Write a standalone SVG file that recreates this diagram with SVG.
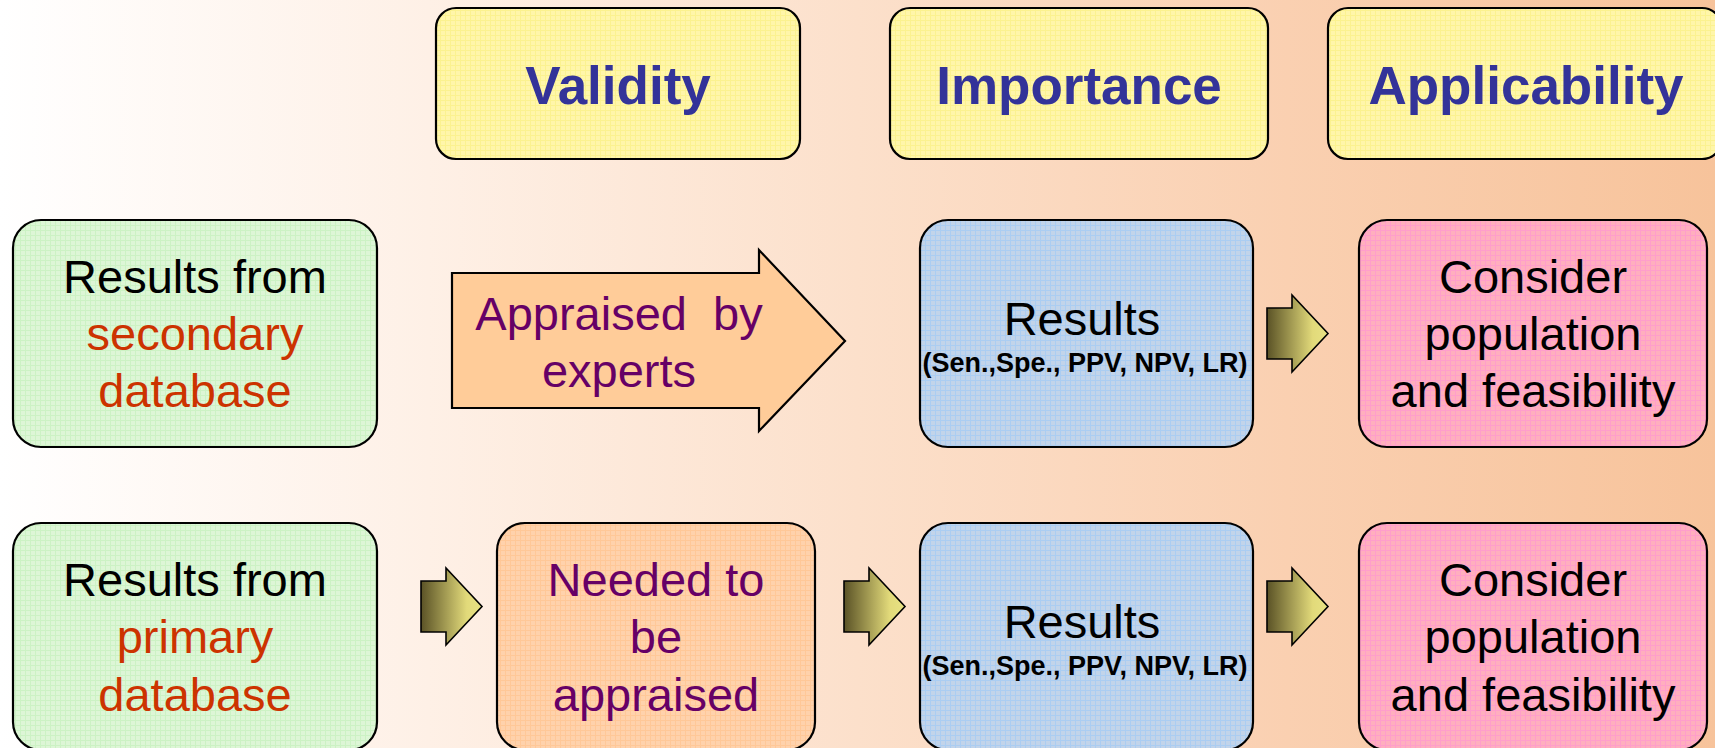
<svg xmlns="http://www.w3.org/2000/svg" width="1715" height="748" viewBox="0 0 1715 748">
<style>
.box{stroke:#000;stroke-width:2.2}
.t{font-family:"Liberation Sans",Arial,sans-serif;text-anchor:middle}
.title{font-weight:bold;font-size:53px;fill:#333399}
.reg{font-size:47px}
.blk{fill:#000}
.red{fill:#CC3300}
.pur{fill:#660066}
.sub{font-weight:bold;font-size:27px;fill:#000}
.sarr{stroke:#000;stroke-width:1.6;fill:url(#gArr)}
</style>
<defs>
<linearGradient id="gBg" x1="0" y1="0" x2="1" y2="0">
<stop offset="0" stop-color="#FFFFFF"/>
<stop offset="0.25" stop-color="#FEF0E6"/>
<stop offset="0.5" stop-color="#FCE0CB"/>
<stop offset="0.75" stop-color="#FAD0B1"/>
<stop offset="1" stop-color="#F7C39B"/>
</linearGradient>
<linearGradient id="gArr" x1="0" y1="0" x2="1" y2="0">
<stop offset="0" stop-color="#5A5226"/>
<stop offset="0.75" stop-color="#E2DA7A"/>
<stop offset="1" stop-color="#E8E284"/>
</linearGradient>
<pattern id="pYel" width="5" height="5" patternUnits="userSpaceOnUse">
<rect width="5" height="5" fill="#FFF6AA"/>
<path d="M0,0.5H5M0.5,0V5" stroke="#FBF290" stroke-width="1"/>
</pattern>
<pattern id="pGrn" width="5" height="5" patternUnits="userSpaceOnUse">
<rect width="5" height="5" fill="#DDF6D6"/>
<path d="M0,0.5H5M0.5,0V5" stroke="#CCF2C4" stroke-width="1"/>
</pattern>
<pattern id="pBlu" width="5" height="5" patternUnits="userSpaceOnUse">
<rect width="5" height="5" fill="#C2D4EA"/>
<path d="M0,0.5H5M0.5,0V5" stroke="#ABCDF2" stroke-width="1"/>
</pattern>
<pattern id="pPnk" width="5" height="5" patternUnits="userSpaceOnUse">
<rect width="5" height="5" fill="#FFAFBE"/>
<path d="M0,0.5H5M0.5,0V5" stroke="#FF9ECB" stroke-width="1"/>
</pattern>
<pattern id="pOrg" width="5" height="5" patternUnits="userSpaceOnUse">
<rect width="5" height="5" fill="#FFD2AC"/>
<path d="M0,0.5H5M0.5,0V5" stroke="#FFC898" stroke-width="1"/>
</pattern>
<path id="smallArrow" d="M0,13H25V0L61,38.5L25,77V64H0Z"/>
</defs>

<rect x="0" y="0" width="1715" height="748" fill="url(#gBg)"/>

<g id="validity">
<rect class="box" x="436" y="8" width="364" height="151" rx="20" fill="url(#pYel)"/>
<text class="t title" x="618" y="104">Validity</text>
</g>
<g id="importance">
<rect class="box" x="890" y="8" width="378" height="151" rx="20" fill="url(#pYel)"/>
<text class="t title" x="1079" y="104">Importance</text>
</g>
<g id="applicability">
<rect class="box" x="1328" y="8" width="394" height="151" rx="20" fill="url(#pYel)"/>
<text class="t title" x="1526" y="104">Applicability</text>
</g>

<g id="secondary">
<rect class="box" x="13" y="220" width="364" height="227" rx="28" fill="url(#pGrn)"/>
<text class="t reg blk" x="195" y="293">Results from</text>
<text class="t reg red" x="195" y="350">secondary</text>
<text class="t reg red" x="195" y="407">database</text>
</g>
<g id="appraised-by-experts">
<path class="box" d="M452,273H759V250L845,341L759,431V408H452Z" fill="#FFCC99"/>
<text class="t reg pur" x="619" y="330">Appraised&#160; by</text>
<text class="t reg pur" x="619" y="387">experts</text>
</g>
<g id="results1">
<rect class="box" x="920" y="220" width="333" height="227" rx="28" fill="url(#pBlu)"/>
<text class="t reg blk" x="1082" y="335">Results</text>
<text class="t sub" x="1085" y="372">(Sen.,Spe., PPV, NPV, LR)</text>
</g>
<g id="consider1">
<rect class="box" x="1359" y="220" width="348" height="227" rx="28" fill="url(#pPnk)"/>
<text class="t reg blk" x="1533" y="293">Consider</text>
<text class="t reg blk" x="1533" y="350">population</text>
<text class="t reg blk" x="1533" y="407">and feasibility</text>
</g>

<g id="primary">
<rect class="box" x="13" y="523" width="364" height="227" rx="28" fill="url(#pGrn)"/>
<text class="t reg blk" x="195" y="596">Results from</text>
<text class="t reg red" x="195" y="653">primary</text>
<text class="t reg red" x="195" y="711">database</text>
</g>
<g id="needed">
<rect class="box" x="497" y="523" width="318" height="227" rx="28" fill="url(#pOrg)"/>
<text class="t reg pur" x="656" y="596">Needed to</text>
<text class="t reg pur" x="656" y="653">be</text>
<text class="t reg pur" x="656" y="711">appraised</text>
</g>
<g id="results2">
<rect class="box" x="920" y="523" width="333" height="227" rx="28" fill="url(#pBlu)"/>
<text class="t reg blk" x="1082" y="638">Results</text>
<text class="t sub" x="1085" y="675">(Sen.,Spe., PPV, NPV, LR)</text>
</g>
<g id="consider2">
<rect class="box" x="1359" y="523" width="348" height="227" rx="28" fill="url(#pPnk)"/>
<text class="t reg blk" x="1533" y="596">Consider</text>
<text class="t reg blk" x="1533" y="653">population</text>
<text class="t reg blk" x="1533" y="711">and feasibility</text>
</g>

<g id="connectors">
<use href="#smallArrow" class="sarr" x="1267" y="295"/>
<use href="#smallArrow" class="sarr" x="421" y="568"/>
<use href="#smallArrow" class="sarr" x="844" y="568"/>
<use href="#smallArrow" class="sarr" x="1267" y="568"/>
</g>
</svg>
